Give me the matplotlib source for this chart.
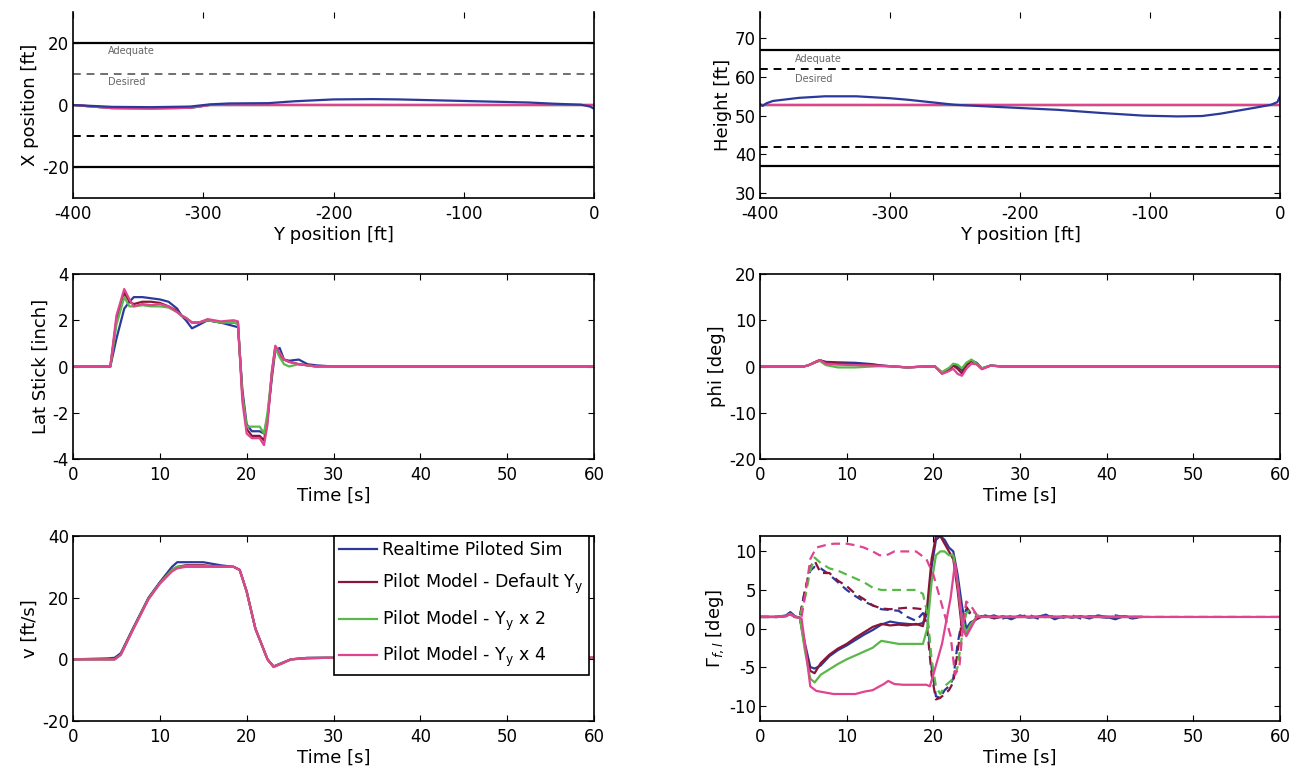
import numpy as np
import matplotlib
matplotlib.use('Agg')
from matplotlib import pyplot as plt

plt.rcParams['font.family'] = ['DejaVu Sans']
plt.rcParams['font.size'] = 12
plt.rcParams['axes.unicode_minus'] = False
plt.rcParams['xtick.direction'] = 'in'
plt.rcParams['ytick.direction'] = 'in'

blue = '#2b3a9a'
darkred = '#8a1538'
green = '#5ab84a'
magenta = '#e0438f'

labels = ['Realtime Piloted Sim',
          r'Pilot Model - Default Y$_{\rm y}$',
          r'Pilot Model - Y$_{\rm y}$ x 2',
          r'Pilot Model - Y$_{\rm y}$ x 4']

# --- X position vs Y position
ypos_x = [-400, -385, -370, -340, -310, -295, -280, -250, -230, -200, -170, -150,
          -120, -100, -70, -50, -30, -10, -3, 0]
xpos_blue = [0, -0.3, -0.6, -0.7, -0.5, 0.2, 0.5, 0.6, 1.2, 1.8, 1.9, 1.8,
             1.5, 1.3, 1.0, 0.8, 0.4, 0.1, -0.5, -1.2]
xpos_model = [0, -0.5, -1.0, -1.1, -0.9, 0, 0, 0, 0, 0, 0, 0,
              0, 0, 0, 0, 0, 0, 0, 0]

# --- Height vs Y position
ypos_h = [-400, -398, -395, -390, -370, -350, -326, -300, -286, -250, -214, -171,
          -138, -105, -79, -60, -46, -20, -7, -2, 0]
h_blue = [53, 52.5, 53.2, 53.8, 54.6, 55.0, 55.0, 54.5, 54.1, 52.8, 52.2, 51.5,
          50.7, 50.0, 49.8, 49.9, 50.5, 52.0, 52.8, 53.5, 55.0]
h_model = [52.7] * len(ypos_h)

# --- Lat stick
t_lat = [0, 4.3, 5, 5.9, 6.5, 7, 8, 9, 10, 11, 12, 12.5, 13, 13.7, 14.5, 15.5, 17,
         18.5, 19.0, 19.5, 20, 20.6, 21.5, 22.0, 22.4, 22.9, 23.3, 23.8, 24.3, 24.9,
         26, 27, 28, 30, 60]
lat_blue = [0, 0, 1.2, 2.5, 2.8, 3.0, 3.0, 2.95, 2.9, 2.8, 2.5, 2.2, 2.0, 1.65, 1.8,
            2.0, 1.9, 1.75, 1.7, -1.0, -2.5, -2.8, -2.8, -2.9, -2.2, -0.5, 0.7, 0.8,
            0.3, 0.25, 0.3, 0.1, 0.05, 0, 0]
lat_red = [0, 0, 2.0, 3.2, 2.8, 2.7, 2.8, 2.8, 2.75, 2.6, 2.4, 2.2, 2.1, 1.9, 1.9,
           2.0, 1.9, 1.9, 1.85, -1.2, -2.7, -3.0, -3.0, -3.2, -2.3, -0.3, 0.85, 0.5,
           0.3, 0.2, 0.1, 0.05, 0, 0, 0]
lat_green = [0, 0, 1.8, 3.0, 2.6, 2.6, 2.65, 2.6, 2.6, 2.55, 2.35, 2.2, 2.1, 1.9, 1.9,
             2.0, 1.9, 1.9, 1.85, -1.2, -2.6, -2.6, -2.6, -2.9, -2.0, -0.3, 0.8, 0.4,
             0.1, 0.0, 0.1, 0.05, 0, 0, 0]
lat_mag = [0, 0, 2.2, 3.35, 2.9, 2.6, 2.7, 2.65, 2.7, 2.6, 2.35, 2.2, 2.1, 1.9, 1.9,
           2.05, 1.95, 2.0, 1.95, -1.5, -2.9, -3.1, -3.1, -3.4, -2.5, -0.2, 0.9, 0.6,
           0.3, 0.2, 0.1, 0.05, 0, 0, 0]

# --- phi
t_phi = [0, 5, 5.5, 6.5, 6.9, 7.6, 9, 11, 13, 14, 15.5, 17, 19, 20.2, 21, 21.8, 22.3,
         22.8, 23.3, 23.8, 24.4, 25, 25.6, 26.6, 28, 60]
phi_blue = [0, 0, 0.2, 1.0, 1.3, 1.0, 0.9, 0.8, 0.5, 0.2, 0, -0.2, 0, 0, -1.3, -0.5,
            0.3, 0, -0.8, 0.5, 1.3, 0.8, -0.4, 0.2, 0, 0]
phi_red = [0, 0, 0.2, 1.1, 1.4, 0.9, 0.7, 0.5, 0.3, 0.2, 0, -0.2, 0, 0, -1.5, -0.8,
           0.2, -0.5, -1.5, 0.2, 1.2, 0.5, -0.5, 0.2, 0, 0]
phi_green = [0, 0, 0.2, 1.0, 1.2, 0.3, -0.2, -0.2, 0, 0.1, 0, -0.2, 0, 0, -1.2, -0.3,
             0.6, 0.4, -0.4, 0.8, 1.5, 0.6, -0.4, 0.2, 0, 0]
phi_mag = [0, 0, 0.2, 1.0, 1.4, 0.6, 0.4, 0.3, 0.2, 0.1, 0, -0.2, 0, 0, -1.6, -1.0,
           -0.5, -1.6, -2.0, -0.5, 0.6, 0.5, -0.6, 0.2, 0, 0]

# --- v
t_v = [0, 4, 4.8, 5.5, 6.9, 8.7, 10, 11.4, 12, 13, 15, 17, 18.5, 19.2, 20, 21, 22.4,
       23.1, 24.2, 25.1, 27, 29.2, 60]
v_blue = [0, 0.3, 0.5, 2, 10, 20, 25, 30, 31.5, 31.5, 31.5, 30.5, 30, 29, 22, 10, 0,
          -2.3, -1, 0, 0.5, 0.5, 0.5]
v_red = [0, 0, 0, 1.5, 9.8, 19.8, 24.8, 29, 30, 30.5, 30.5, 30, 30, 29, 22, 10, 0,
         -2.4, -1.1, 0, 0.4, 0.5, 0.5]
v_green = [0, 0, 0, 1.5, 9.7, 19.7, 24.7, 29, 30, 30.2, 30.2, 30.1, 30, 29, 22, 10, 0,
           -2.4, -1.1, 0, 0.4, 0.5, 0.5]
v_mag = [0, 0, 0, 1.5, 9.5, 19.5, 24.5, 28.5, 29.5, 30, 30, 30, 30, 29, 22, 10, 0,
         -2.5, -1.2, 0, 0.3, 0.5, 0.5]

# --- flapping angles (solid / dashed)
t_fl = [0, 2, 3, 3.5, 4, 4.6, 5.2, 5.8, 6.3, 7, 8, 9, 10, 11, 12, 13, 14, 15, 16, 17,
        18, 18.8, 19.3, 19.8, 20.3, 20.8, 21.3, 21.8, 22.3, 22.8, 23.3, 23.8, 24.3,
        25, 25.5, 26, 27, 28, 29, 30, 31, 32, 33, 34, 35, 36, 37, 38, 39, 40, 41, 42,
        43, 44]
fl_blue_s = [1.5, 1.5, 1.7, 2.1, 1.6, 1.4, -2, -5, -5.2, -4.8, -3.6, -2.8, -2.2, -1.5,
             -0.8, -0.2, 0.5, 0.9, 0.7, 0.6, 0.5, 0.7, 2, 8, 11.5, 12, 11.5, 10.5, 10,
             7, 3, 0, 0.8, 1.2, 1.5, 1.7, 1.3, 1.6, 1.2, 1.7, 1.4, 1.5, 1.8, 1.2, 1.6,
             1.4, 1.6, 1.3, 1.7, 1.5, 1.2, 1.6, 1.4, 1.5]
fl_blue_d = [1.5, 1.5, 1.7, 2.1, 1.6, 1.6, 5, 7.5, 8, 7.8, 7, 6, 5, 4.2, 3.5, 3, 2.5,
             2.4, 2.3, 1.5, 1.0, 2.0, 1.5, -5, -8.8, -9, -8, -7.5, -6.5, -2, 1, 2.5,
             1.8, 1.5, 1.6, 1.4, 1.7, 1.3, 1.6, 1.5, 1.8, 1.3, 1.5, 1.6, 1.4, 1.7, 1.3,
             1.6, 1.5, 1.4, 1.7, 1.5, 1.3, 1.5]
fl_red_s = [1.5, 1.5, 1.6, 1.9, 1.5, 1.4, -2.5, -5.5, -5.8, -4.5, -3.4, -2.6, -2.0,
            -1.2, -0.5, 0.2, 0.6, 0.4, 0.5, 0.4, 0.6, 0.3, 3, 9, 12, 12, 11, 10, 9, 5,
            0, -0.8, 0.5, 1.3, 1.5, 1.6, 1.4, 1.5, 1.5, 1.5, 1.5, 1.5, 1.5, 1.5, 1.5,
            1.5, 1.5, 1.5, 1.5, 1.5, 1.5, 1.5, 1.5, 1.5]
fl_red_d = [1.5, 1.5, 1.6, 1.9, 1.5, 1.6, 5, 8, 8.8, 7.2, 7.2, 6.2, 5.5, 4.5, 3.8, 3.0,
            2.6, 2.5, 2.6, 2.7, 2.6, 2.5, 0, -6, -9.2, -9, -8.5, -8, -7, -3, 1, 2.8,
            2, 1.5, 1.5, 1.5, 1.5, 1.5, 1.5, 1.5, 1.5, 1.5, 1.5, 1.5, 1.5, 1.5, 1.5,
            1.5, 1.5, 1.5, 1.5, 1.5, 1.5, 1.5]
fl_green_s = [1.5, 1.5, 1.6, 1.9, 1.5, 1.4, -3, -6.5, -7, -6, -5.3, -4.6, -4, -3.5,
              -3, -2.5, -1.6, -1.8, -2, -2, -2, -2, 0, 6, 9.5, 10, 10, 9.5, 9.5, 6, 1,
              -0.5, 0.5, 1.5, 1.5, 1.5, 1.5, 1.5, 1.5, 1.5, 1.5, 1.5, 1.5, 1.5, 1.5,
              1.5, 1.5, 1.5, 1.5, 1.5, 1.5, 1.5, 1.5, 1.5]
fl_green_d = [1.5, 1.5, 1.6, 1.9, 1.5, 1.6, 4, 7.5, 9.2, 8.5, 7.8, 7.5, 7, 6.5, 6, 5.3,
              5, 5, 5, 5, 5, 4.5, 2, -4, -7.5, -8.5, -7.5, -7, -6.5, -5, -1, 2, 2.5,
              1.8, 1.5, 1.5, 1.5, 1.5, 1.5, 1.5, 1.5, 1.5, 1.5, 1.5, 1.5, 1.5, 1.5,
              1.5, 1.5, 1.5, 1.5, 1.5, 1.5, 1.5]

t_fl4 = [0, 2, 3, 3.5, 4, 4.8, 5.3, 5.8, 6.5, 7.5, 8.5, 10, 11, 12, 13, 13.8, 14.3,
         14.8, 15.5, 16.5, 18, 19.2, 19.6, 20, 21, 22, 22.5, 23, 23.4, 23.8, 24.3, 25,
         26, 60]
fl_mag_s = [1.5, 1.5, 1.6, 1.9, 1.5, 1.3, -3, -7.5, -8.1, -8.3, -8.5, -8.5, -8.5,
            -8.2, -8.0, -7.5, -7.2, -6.8, -7.2, -7.3, -7.3, -7.3, -7.5, -6, -2, 4, 8.5,
            4, 0, -1, 0, 1.5, 1.5, 1.5]
fl_mag_d = [1.5, 1.5, 1.6, 1.9, 1.5, 1.5, 5, 9, 10.5, 10.8, 11, 11, 10.8, 10.5, 10,
            9.5, 9.5, 9.6, 10, 10, 10, 9, 8, 7, 3, -1, -6, -5, 0, 3.5, 3, 1.8, 1.5, 1.5]

xlab_pos = 'Y position [ft]'
tlab = 'Time [s]'

fig = plt.figure(figsize=(12.99, 7.73), dpi=100)

colL, wL = 73 / 1299, 521 / 1299
colR, wR = 760 / 1299, 520 / 1299
rows = [(1 - 198 / 773, 186 / 773), (1 - 459 / 773, 185 / 773), (1 - 721 / 773, 185 / 773)]


def style(ax, top=True):
    ax.tick_params(top=True, right=True, length=4, width=0.8)
    ax.tick_params(axis='x', pad=5)
    ax.tick_params(axis='y', pad=3)
    for s in ax.spines.values():
        s.set_linewidth(1.2)
    if not top:
        ax.spines['top'].set_visible(False)


lw = 1.6

# top-left
ax1 = fig.add_axes([colL, rows[0][0], wL, rows[0][1]])
for yv in [20, -20]:
    ax1.axhline(yv, color='k', lw=1.6)
ax1.axhline(10, color='#6f6f6f', lw=1.4, ls='--', dashes=(4, 3))
ax1.axhline(-10, color='k', lw=1.4, ls='--', dashes=(4, 3))
ax1.text(-373, 17.5, 'Adequate', fontsize=7, color='#666666', va='center')
ax1.text(-373, 7.5, 'Desired', fontsize=7, color='#666666', va='center')
ax1.plot(ypos_x, xpos_model, color=darkred, lw=lw)
ax1.plot(ypos_x, xpos_model, color=green, lw=lw)
ax1.plot(ypos_x, xpos_model, color=magenta, lw=lw)
ax1.plot(ypos_x, xpos_blue, color=blue, lw=lw)
ax1.set_xlim(-400, 0)
ax1.set_ylim(-30, 30)
ax1.set_xticks([-400, -300, -200, -100, 0])
ax1.set_yticks([-20, 0, 20])
ax1.set_xlabel(xlab_pos, fontsize=13, labelpad=2)
ax1.set_ylabel('X position [ft]', fontsize=13, labelpad=2)
style(ax1, top=False)

# top-right
ax2 = fig.add_axes([colR, rows[0][0], wR, rows[0][1]])
for yv in [67, 37]:
    ax2.axhline(yv, color='k', lw=1.6)
for yv in [62, 42]:
    ax2.axhline(yv, color='k', lw=1.4, ls='--', dashes=(4, 3))
ax2.text(-373, 64.6, 'Adequate', fontsize=7, color='#666666', va='center')
ax2.text(-373, 59.6, 'Desired', fontsize=7, color='#666666', va='center')
ax2.plot(ypos_h, h_model, color=darkred, lw=lw)
ax2.plot(ypos_h, h_model, color=green, lw=lw)
ax2.plot(ypos_h, h_model, color=magenta, lw=lw)
ax2.plot(ypos_h, h_blue, color=blue, lw=lw)
ax2.set_xlim(-400, 0)
ax2.set_ylim(28.7, 76.8)
ax2.set_xticks([-400, -300, -200, -100, 0])
ax2.set_yticks([30, 40, 50, 60, 70])
ax2.set_xlabel(xlab_pos, fontsize=13, labelpad=2)
ax2.set_ylabel('Height [ft]', fontsize=13, labelpad=2)
style(ax2, top=False)

# middle-left
ax3 = fig.add_axes([colL, rows[1][0], wL, rows[1][1]])
ax3.plot(t_lat, lat_blue, color=blue, lw=lw)
ax3.plot(t_lat, lat_red, color=darkred, lw=lw)
ax3.plot(t_lat, lat_green, color=green, lw=lw)
ax3.plot(t_lat, lat_mag, color=magenta, lw=lw)
ax3.set_xlim(0, 60)
ax3.set_ylim(-4, 4)
ax3.set_xticks(range(0, 61, 10))
ax3.set_yticks([-4, -2, 0, 2, 4])
ax3.set_xlabel(tlab, fontsize=13, labelpad=2)
ax3.set_ylabel('Lat Stick [inch]', fontsize=13, labelpad=2)
style(ax3)

# middle-right
ax4 = fig.add_axes([colR, rows[1][0], wR, rows[1][1]])
ax4.plot(t_phi, phi_blue, color=blue, lw=lw)
ax4.plot(t_phi, phi_red, color=darkred, lw=lw)
ax4.plot(t_phi, phi_green, color=green, lw=lw)
ax4.plot(t_phi, phi_mag, color=magenta, lw=lw)
ax4.set_xlim(0, 60)
ax4.set_ylim(-20, 20)
ax4.set_xticks(range(0, 61, 10))
ax4.set_yticks([-20, -10, 0, 10, 20])
ax4.set_xlabel(tlab, fontsize=13, labelpad=2)
ax4.set_ylabel('phi [deg]', fontsize=13, labelpad=2)
style(ax4)

# bottom-left
ax5 = fig.add_axes([colL, rows[2][0], wL, rows[2][1]])
l1, = ax5.plot(t_v, v_blue, color=blue, lw=lw)
l2, = ax5.plot(t_v, v_red, color=darkred, lw=lw)
l3, = ax5.plot(t_v, v_green, color=green, lw=lw)
l4, = ax5.plot(t_v, v_mag, color=magenta, lw=lw)
ax5.set_xlim(0, 60)
ax5.set_ylim(-20, 40)
ax5.set_xticks(range(0, 61, 10))
ax5.set_yticks([-20, 0, 20, 40])
ax5.set_xlabel(tlab, fontsize=13, labelpad=2)
ax5.set_ylabel('v [ft/s]', fontsize=13, labelpad=2)
style(ax5)
leg = ax5.legend([l1, l2, l3, l4], labels, loc='upper right', bbox_to_anchor=(0.99, 1.0),
                 borderaxespad=0, fancybox=False, edgecolor='k', framealpha=1,
                 handlelength=2.2, handletextpad=0.3, labelspacing=0.72, borderpad=0.3,
                 fontsize=12.5)
leg.get_frame().set_linewidth(1.2)

# bottom-right
ax6 = fig.add_axes([colR, rows[2][0], wR, rows[2][1]])
ax6.plot(t_fl, fl_blue_s, color=blue, lw=lw)
ax6.plot(t_fl, fl_blue_d, color=blue, lw=lw, ls='--', dashes=(4, 2.5))
ax6.plot(t_fl, fl_red_s, color=darkred, lw=lw)
ax6.plot(t_fl, fl_red_d, color=darkred, lw=lw, ls='--', dashes=(4, 2.5))
ax6.plot(t_fl, fl_green_s, color=green, lw=lw)
ax6.plot(t_fl, fl_green_d, color=green, lw=lw, ls='--', dashes=(4, 2.5))
ax6.plot(t_fl4, fl_mag_s, color=magenta, lw=lw)
ax6.plot(t_fl4, fl_mag_d, color=magenta, lw=lw, ls='--', dashes=(4, 2.5))
ax6.set_xlim(0, 60)
ax6.set_ylim(-12, 12)
ax6.set_xticks(range(0, 61, 10))
ax6.set_yticks([-10, -5, 0, 5, 10])
ax6.set_xlabel(tlab, fontsize=13, labelpad=2)
ax6.set_ylabel(r'$\Gamma_{f,l}$ [deg]', fontsize=13, labelpad=2)
style(ax6)

fig.savefig('out.png', dpi=100)
